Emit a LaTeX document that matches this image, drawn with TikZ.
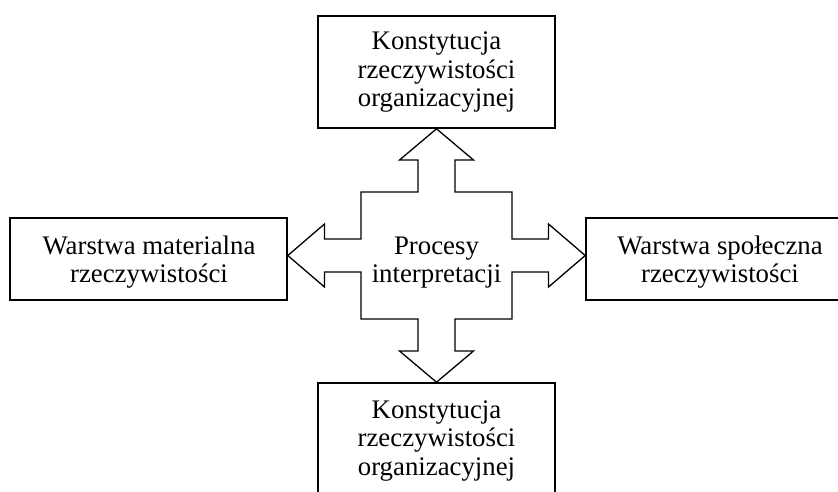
\documentclass[tikz,border=0pt]{standalone}
\usepackage{fontspec}
\setmainfont{Liberation Serif}
\usetikzlibrary{calc}
\begin{document}
\begin{tikzpicture}[x=1pt,y=-1pt,
  txt/.style={font=\fontsize{26.8}{28.5}\selectfont, align=center, inner sep=0pt},
  box/.style={draw, line width=1.6pt, inner sep=0pt, minimum height=#1},
  cross/.style={draw, line width=1.3pt, line join=miter}]
  \useasboundingbox (0,0) rectangle (838,491);
  \clip (0,0) rectangle (838,491);

  % boxes
  \node[box=112pt, minimum width=237pt] (top) at (436.5,72) {};
  \node[box=112pt, minimum width=237pt] (bot) at (436.5,439) {};
  \node[box=82pt, minimum width=277pt] (left) at (148.5,259) {};
  \node[box=82pt, minimum width=270pt] (right) at (721,259) {};

  % box labels
  \node[txt] (toptxt) at (436.5,72.5) {Konstytucja\\rzeczywistości\\organizacyjnej};
  \node[txt] (bottxt) at (436.5,441) {Konstytucja\\rzeczywistości\\organizacyjnej};
  \node[txt] (lefttxt) at (149,262) {Warstwa materialna\\rzeczywistości};
  \node[txt] (righttxt) at (720,262) {Warstwa społeczna\\rzeczywistości};

  % four-way arrow around the central label
  \coordinate (c) at (436.5,255.5);
  \node[txt] (mid) at (436.5,262.5) {Procesy\\interpretacji};
  \begin{scope}[shift={(c)}]
    \draw[cross]
      (top.south) -- (37,-95.5) -- (18.5,-95.5) -- (18.5,-63.5) -- (75.5,-63.5)
      -- (75.5,-16.5) -- (112,-16.5) -- (112,-31.5) -- (right.west |- c)
      -- (112,31.5) -- (112,16.5) -- (75.5,16.5) -- (75.5,63.5)
      -- (18.5,63.5) -- (18.5,95.5) -- (37,95.5) -- (bot.north)
      -- (-37,95.5) -- (-18.5,95.5) -- (-18.5,63.5) -- (-75.5,63.5)
      -- (-75.5,16.5) -- (-112,16.5) -- (-112,31.5) -- (left.east |- c)
      -- (-112,-31.5) -- (-112,-16.5) -- (-75.5,-16.5) -- (-75.5,-63.5)
      -- (-18.5,-63.5) -- (-18.5,-95.5) -- (-37,-95.5) -- cycle;
  \end{scope}
\end{tikzpicture}
\end{document}
